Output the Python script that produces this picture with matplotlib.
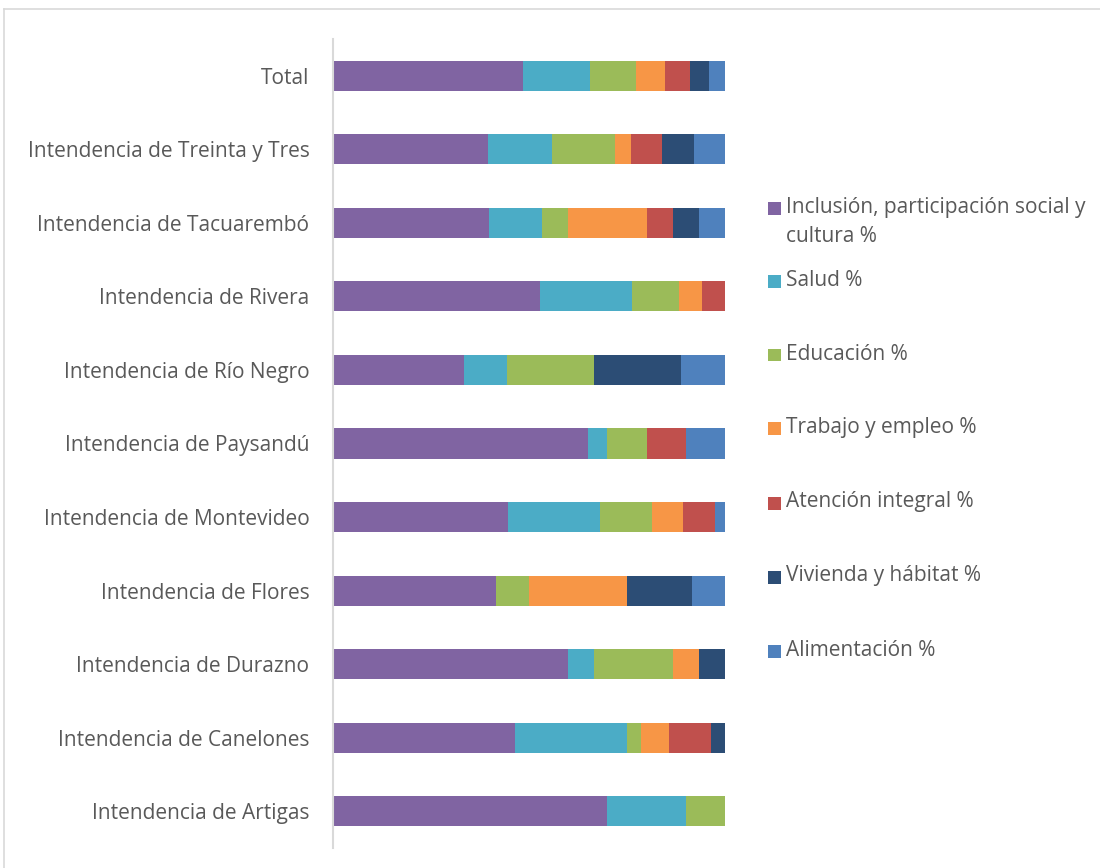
import matplotlib
matplotlib.use("Agg")
import matplotlib.pyplot as plt
from matplotlib.patches import Rectangle
from matplotlib.lines import Line2D
import numpy as np

categories = ["Total", "Intendencia de Treinta y Tres", "Intendencia de Tacuarembó",
              "Intendencia de Rivera", "Intendencia de Río Negro", "Intendencia de Paysandú",
              "Intendencia de Montevideo", "Intendencia de Flores", "Intendencia de Durazno",
              "Intendencia de Canelones", "Intendencia de Artigas"]

series_names = ["Inclusión, participación social y\ncultura %", "Salud %", "Educación %",
                "Trabajo y empleo %", "Atención integral %", "Vivienda y hábitat %",
                "Alimentación %"]

inclusion    = [48.5, 39.6, 39.8, 52.7, 33.4, 65.0, 44.6, 41.7, 60.0, 46.4, 70.0]
salud        = [17.1, 16.2, 13.4, 23.5, 11.1,  5.0, 23.6,  0.0,  6.7, 28.5, 20.0]
educacion    = [11.6, 16.1,  6.8, 12.0, 22.2, 10.0, 13.3,  8.3, 20.0,  3.6, 10.0]
trabajo      = [ 7.5,  4.1, 20.1,  5.9,  0.0,  0.0,  7.9, 25.0,  6.7,  7.1,  0.0]
atencion     = [ 6.4,  8.0,  6.7,  5.9,  0.0, 10.0,  8.0,  0.0,  0.0, 10.8,  0.0]
vivienda     = [ 4.7,  8.0,  6.6,  0.0, 22.2,  0.0,  0.0, 16.7,  6.6,  3.6,  0.0]
alimentacion = [ 4.2,  8.0,  6.6,  0.0, 11.1, 10.0,  2.6,  8.3,  0.0,  0.0,  0.0]

series = [inclusion, salud, educacion, trabajo, atencion, vivienda, alimentacion]
colors = ["#8064A2", "#4BACC6", "#9BBB59", "#F79646", "#C0504D", "#2C4D75", "#4F81BD"]

W, H = 1100, 868
fig = plt.figure(figsize=(W / 100, H / 100), dpi=100)
fx = lambda px: px / W
fy = lambda py: 1 - py / H

FONT = "Open Sans"
TXT = "#595959"
FS = 15

ax = fig.add_axes([fx(333), fy(848), fx(725) - fx(333), fy(39) - fy(848)])
y = np.arange(len(categories))
left = np.zeros(len(categories))
for vals, col in zip(series, colors):
    v = np.array(vals)
    ax.barh(y, v, left=left, height=0.41, color=col, edgecolor="none")
    left += v

ax.set_xlim(0, 100)
ax.set_ylim(len(categories) - 0.5, -0.5)
ax.set_yticks(y)
ax.set_yticklabels(categories, fontsize=FS, color=TXT, family=FONT)
ax.tick_params(axis="y", length=0, pad=17)
ax.set_xticks([])
for s in ["top", "right", "bottom"]:
    ax.spines[s].set_visible(False)
ax.spines["left"].set_color("#D9D9D9")
ax.spines["left"].set_linewidth(1.5)

# legend (manual, Excel-style)
leg_y = [208, 281, 355, 429, 503, 577, 651]
for name, col, py in zip(series_names, colors, leg_y):
    fig.patches.append(Rectangle((fx(768), fy(py + 6.5)), fx(781) - fx(768), fy(py - 6.5) - fy(py + 6.5),
                                 transform=fig.transFigure, facecolor=col, edgecolor="none"))
    for i, line in enumerate(name.split("\n")):
        fig.text(fx(786), fy(py - 1 + i * 29), line, fontsize=FS, color=TXT, family=FONT,
                 va="center", ha="left")

# chart area frame
fig.lines.append(Line2D([fx(4), fx(4)], [fy(9), 0], transform=fig.transFigure, color="#D9D9D9", lw=1.2))
fig.lines.append(Line2D([fx(4), 1], [fy(9), fy(9)], transform=fig.transFigure, color="#D9D9D9", lw=1.2))

fig.savefig("out.png", dpi=100, facecolor="white")
